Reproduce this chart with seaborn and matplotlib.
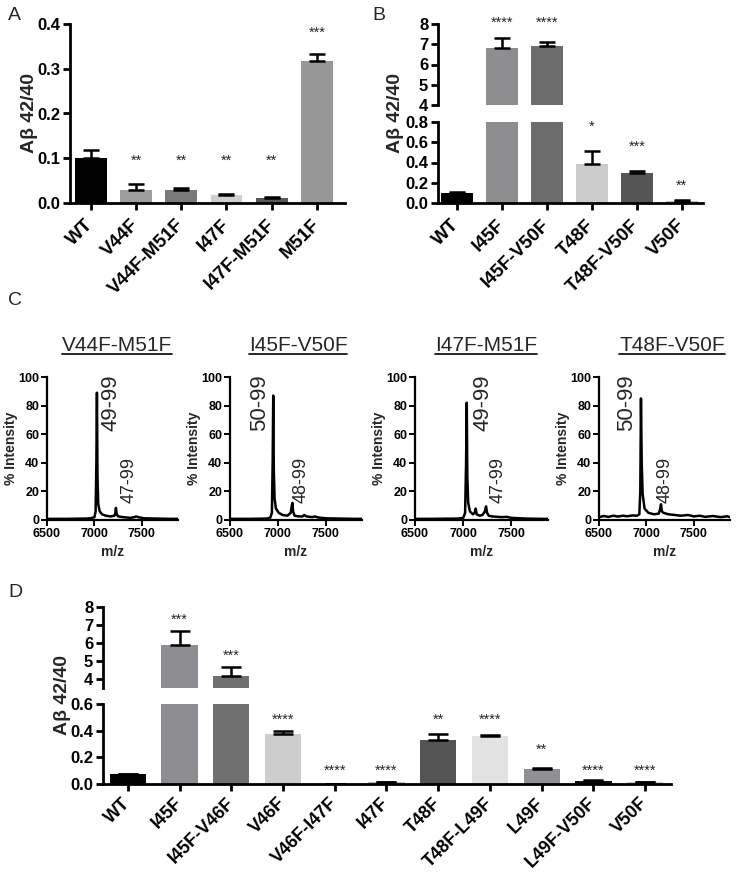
import numpy as np
import pandas as pd
import matplotlib
matplotlib.use("Agg")
import matplotlib.pyplot as plt
import seaborn as sns
from matplotlib.lines import Line2D
from matplotlib.ticker import FormatStrFormatter

sns.set_style("ticks")
plt.rcParams['font.family'] = ['Liberation Sans', 'DejaVu Sans']

W, H = 744, 877

# Panel A
a_names = ["WT", "V44F", "V44F-M51F", "I47F", "I47F-M51F", "M51F"]
a_vals = [0.100, 0.028, 0.030, 0.018, 0.011, 0.318]
a_err = [0.018, 0.015, 0.003, 0.003, 0.002, 0.016]
a_colors = ["#000000", "#9e9e9e", "#7a7a7a", "#cfcfcf", "#585858", "#979797"]
a_stars = ["", "**", "**", "**", "**", "***"]
a_star_y = [0, 0.095, 0.095, 0.095, 0.095, 0.38]

# Panel B
b_names = ["WT", "I45F", "I45F-V50F", "T48F", "T48F-V50F", "V50F"]
b_vals = [0.10, 6.80, 6.92, 0.39, 0.30, 0.02]
b_err = [0.012, 0.52, 0.20, 0.12, 0.015, 0.005]
b_colors = ["#000000", "#8e8e90", "#6c6c6c", "#cbcbcb", "#555555", "#c0c0c0"]
b_stars = ["", "****", "****", "*", "***", "**"]
b_star_y = [0, 8.05, 8.05, 0.75, 0.56, 0.17]

# Panel D
d_names = ["WT", "I45F", "I45F-V46F", "V46F", "V46F-I47F", "I47F",
           "T48F", "T48F-L49F", "L49F", "L49F-V50F", "V50F"]
d_vals = [0.075, 5.90, 4.15, 0.375, 0.0, 0.012, 0.33, 0.36, 0.11, 0.025, 0.012]
d_err = [0.003, 0.75, 0.50, 0.02, 0.0, 0.004, 0.045, 0.01, 0.012, 0.004, 0.003]
d_colors = ["#000000", "#8e8e92", "#6f706f", "#cdcdcd", "#999999", "#bdbdbd",
            "#545454", "#e3e3e3", "#909092", "#111111", "#cccccc"]
d_stars = ["", "***", "***", "****", "****", "****", "**", "****", "**", "****", "****"]
d_star_y = [0, 7.3, 5.3, 0.48, 0.1, 0.1, 0.48, 0.48, 0.26, 0.1, 0.1]

# Panel C spectra (m/z, % intensity)
c_titles = ["V44F-M51F", "I45F-V50F", "I47F-M51F", "T48F-V50F"]
mz1 = [6500, 6600, 6700, 6800, 6900, 6960, 7000, 7012, 7020, 7026, 7032, 7040, 7055, 7080,
       7120, 7170, 7210, 7220, 7226, 7234, 7250, 7300, 7380, 7420, 7440, 7460, 7520, 7650, 7800, 7880]
in1 = [0.8, 0.8, 0.8, 0.9, 1.0, 1.2, 2.0, 6, 40, 89, 30, 11, 6, 4,
       3, 2.5, 3, 5, 8.5, 4, 2.5, 2, 1.5, 2, 2.5, 2, 1.2, 1, 0.8, 0.8]
mz2 = [6500, 6600, 6700, 6800, 6880, 6920, 6938, 6946, 6952, 6958, 6966, 6980, 7010, 7050, 7100,
       7135, 7146, 7152, 7160, 7175, 7220, 7260, 7275, 7300, 7360, 7385, 7420, 7500, 7650, 7800, 7880]
in2 = [0.8, 0.8, 0.8, 0.9, 1.0, 1.5, 5, 40, 87, 35, 15, 8, 5, 3.5, 3,
       5, 10, 12, 6, 3, 2.5, 2.5, 3.5, 2.5, 2, 2.5, 1.8, 1.2, 1, 0.8, 0.8]
mz3 = [6500, 6650, 6800, 6950, 7000, 7020, 7030, 7037, 7043, 7052, 7070, 7100, 7118, 7130,
       7140, 7170, 7200, 7225, 7237, 7248, 7265, 7300, 7400, 7450, 7500, 7650, 7800, 7880]
in3 = [0.8, 0.8, 0.9, 1.0, 1.5, 5, 40, 82, 30, 12, 6, 4, 5, 8,
       4, 3, 3.5, 6, 9.5, 5, 3, 2.5, 2, 2.2, 1.5, 1, 0.8, 0.8]
mz4 = [6500, 6550, 6600, 6650, 6700, 6750, 6800, 6850, 6900, 6925, 6935, 6942, 6950, 6960, 6980,
       7020, 7080, 7130, 7145, 7153, 7162, 7180, 7230, 7300, 7360, 7440, 7500, 7560, 7620, 7700,
       7780, 7850, 7880]
in4 = [2, 2.8, 2.2, 3, 2.4, 3, 2.6, 3.2, 3, 4, 20, 85, 40, 18, 8,
       5, 4, 4.5, 8, 11, 6, 5, 4, 3.5, 3, 3.5, 2.5, 3, 2.2, 2.8,
       2, 2.6, 2]
c_spectra = [(mz1, in1), (mz2, in2), (mz3, in3), (mz4, in4)]
c_big = ["49-99", "50-99", "49-99", "50-99"]
c_big_x = [7175, 6805, 7205, 6795]
c_small = ["47-99", "48-99", "47-99", "48-99"]
c_small_x = [7360, 7240, 7360, 7200]

fig = plt.figure(figsize=(W / 100, H / 100), dpi=100)


def px_axes(l, t, r, b):
    return fig.add_axes([l / W, 1 - b / H, (r - l) / W, (b - t) / H])


def style(ax, size=12, lw=2.0):
    sns.despine(ax=ax)
    for s in ["left", "bottom"]:
        ax.spines[s].set_linewidth(lw)
        ax.spines[s].set_color("black")
    ax.tick_params(width=lw, length=5, labelsize=size, colors="black", pad=2)
    ax.set_xlabel("")
    ax.set_ylabel("")


def bold_y(ax):
    for lbl in ax.get_yticklabels():
        lbl.set_fontweight("bold")


def bars(ax, names, vals, errs, colors, capsize):
    df = pd.DataFrame({"name": names, "val": vals})
    sns.barplot(data=df, x="name", y="val", hue="name", palette=colors, legend=False,
                ax=ax, width=0.7, saturation=1, edgecolor="none", errorbar=None)
    ax.errorbar(range(len(names)), vals, yerr=[np.zeros(len(errs)), errs], fmt="none",
                ecolor="black", elinewidth=1.8, capsize=capsize, capthick=1.8)


def stars(ax, st, sy, lo, hi):
    for i, (s, y) in enumerate(zip(st, sy)):
        if s and lo <= y <= hi * 1.05:
            ax.text(i, y, s, ha="center", va="center", fontsize=10.5, clip_on=False)


def xlabels(ax, names, size, pad):
    ax.set_xticks(range(len(names)))
    ax.set_xticklabels(names, rotation=45, ha="right", va="center", rotation_mode="anchor",
                       fontweight="bold", fontsize=size)
    ax.tick_params(axis="x", pad=pad)


# ---- A ----
axA = px_axes(70, 24, 345, 203)
bars(axA, a_names, a_vals, a_err, a_colors, 6)
style(axA)
axA.set_ylim(0, 0.4)
axA.set_xlim(-0.46, 5.62)
axA.set_yticks([0, 0.1, 0.2, 0.3, 0.4])
axA.yaxis.set_major_formatter(FormatStrFormatter("%.1f"))
bold_y(axA)
xlabels(axA, a_names, 13.5, 9)
stars(axA, a_stars, a_star_y, 0, 0.4)
fig.text(29 / W, 1 - 113 / H, "Aβ 42/40", rotation=90, ha="center", va="center",
         fontsize=14, fontweight="bold")

# ---- B (broken axis) ----
axB1 = px_axes(438, 24, 703, 105)
axB2 = px_axes(438, 122, 703, 203)
for ax in (axB1, axB2):
    bars(ax, b_names, b_vals, b_err, b_colors, 6)
    style(ax)
    ax.set_xlim(-0.42, 5.47)
axB1.set_ylim(4, 8)
axB1.set_yticks([4, 5, 6, 7, 8])
axB1.spines["bottom"].set_visible(False)
axB1.tick_params(axis="x", bottom=False, labelbottom=False)
axB2.set_ylim(0, 0.8)
axB2.set_yticks([0, 0.2, 0.4, 0.6, 0.8])
axB2.yaxis.set_major_formatter(FormatStrFormatter("%.1f"))
bold_y(axB1)
bold_y(axB2)
xlabels(axB2, b_names, 13.5, 9)
stars(axB1, b_stars, b_star_y, 4, 8)
stars(axB2, b_stars, b_star_y, 0, 0.8)
fig.text(395 / W, 1 - 113 / H, "Aβ 42/40", rotation=90, ha="center", va="center",
         fontsize=14, fontweight="bold")

# ---- C (spectra) ----
spec_x = [(47, 178), (230, 362), (415, 548), (599, 730)]
title_cx = [117, 298, 486, 672]
titles = []
for k, (l, r) in enumerate(spec_x):
    ax = px_axes(l, 377, r, 520)
    mz, inten = c_spectra[k]
    sns.lineplot(x=mz, y=inten, ax=ax, color="black", lw=1.8, estimator=None, sort=False)
    style(ax, size=9, lw=1.6)
    ax.tick_params(length=4, width=1.4, pad=1.5)
    ax.set_xlim(6500, 7880)
    ax.set_ylim(0, 100)
    ax.set_yticks([0, 20, 40, 60, 80, 100])
    ax.set_xticks([6500, 7000, 7500])
    for lbl in ax.get_xticklabels() + ax.get_yticklabels():
        lbl.set_fontweight("bold")
    ax.set_ylabel("% Intensity", fontsize=10, fontweight="bold", labelpad=0)
    ax.set_xlabel("m/z", fontsize=10, fontweight="bold", labelpad=4)
    ax.text(c_big_x[k], 82, c_big[k], rotation=90, ha="center", va="center", fontsize=16)
    ax.text(c_small_x[k], 28, c_small[k], rotation=90, ha="center", va="center", fontsize=13)
    t = fig.text(title_cx[k] / W, 1 - 351 / H, c_titles[k], ha="center", va="baseline",
                 fontsize=15)
    titles.append(t)

# ---- D (broken axis) ----
axD1 = px_axes(103, 607, 671, 688)
axD2 = px_axes(103, 704, 671, 784)
for ax in (axD1, axD2):
    bars(ax, d_names, d_vals, d_err, d_colors, 7)
    style(ax, size=12)
    ax.set_xlim(-0.48, 10.5)
axD1.set_ylim(3.5, 8)
axD1.set_yticks([4, 5, 6, 7, 8])
axD1.spines["bottom"].set_visible(False)
axD1.tick_params(axis="x", bottom=False, labelbottom=False)
axD2.set_ylim(0, 0.6)
axD2.set_yticks([0, 0.2, 0.4, 0.6])
axD2.yaxis.set_major_formatter(FormatStrFormatter("%.1f"))
bold_y(axD1)
bold_y(axD2)
xlabels(axD2, d_names, 13, 7)
stars(axD1, d_stars, d_star_y, 3.5, 8)
stars(axD2, d_stars, d_star_y, 0, 0.6)
fig.text(63 / W, 1 - 695 / H, "Aβ 42/40", rotation=90, ha="center", va="center",
         fontsize=14, fontweight="bold")

# panel letters
for letter, x, y in [("A", 8, 20), ("B", 372, 20), ("C", 8, 305), ("D", 8, 597)]:
    fig.text(x / W, 1 - y / H, letter, ha="left", va="baseline", fontsize=14)

# underline the spectrum titles
fig.canvas.draw()
inv = fig.transFigure.inverted()
for t in titles:
    bb = t.get_window_extent()
    (x0, _), (x1, _) = inv.transform([(bb.x0, 0), (bb.x1, 0)])
    fig.add_artist(Line2D([x0, x1], [1 - 354 / H] * 2, color="black", lw=1.2))

fig.savefig("out.png", dpi=100)
